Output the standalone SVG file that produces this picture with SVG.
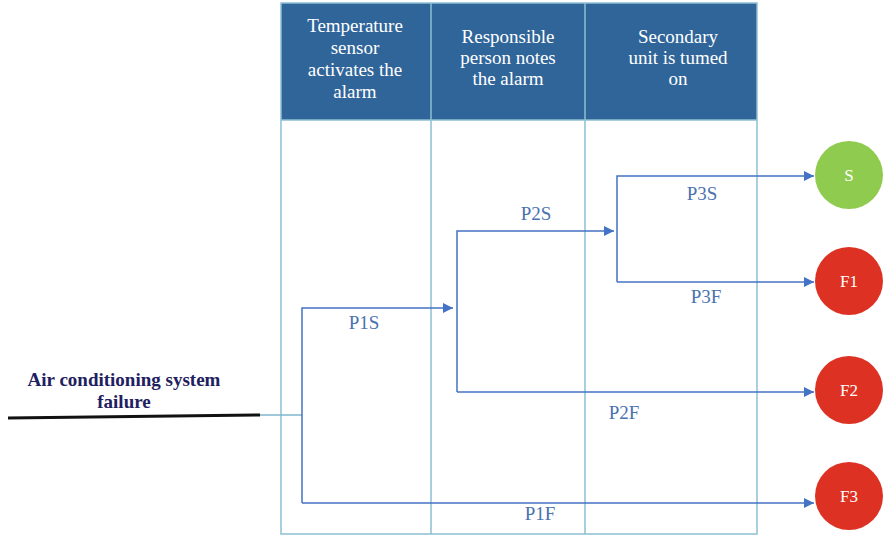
<svg xmlns="http://www.w3.org/2000/svg" width="885" height="536" viewBox="0 0 885 536" font-family="'Liberation Serif', serif">
  <defs>
    <marker id="arrow" viewBox="0 0 10 10" refX="10" refY="5" markerWidth="10" markerHeight="10" markerUnits="userSpaceOnUse" orient="auto">
      <path d="M0,0 L10,5 L0,10 z" fill="#4472C4"/>
    </marker>
    <style>
      .grid { fill: none; stroke: #8DBFD3; stroke-width: 1.5; }
      .hdr { fill: #FFFFFF; font-size: 19px; text-anchor: middle; }
      .flow { fill: none; stroke: #4472C4; stroke-width: 1.5; }
      .tie { fill: none; stroke: #7FB7CB; stroke-width: 1.5; }
      .lbl { fill: #4A72B0; font-size: 19px; text-anchor: middle; }
      .evt { fill: #1E2060; font-size: 19px; font-weight: bold; text-anchor: middle; }
      .state text { fill: #FFFFFF; font-size: 17px; text-anchor: middle; }
      .ok { fill: #8FCB4E; }
      .bad { fill: #DD3223; }
    </style>
  </defs>

  <!-- swimlane table -->
  <g id="table">
    <rect x="281" y="3" width="476" height="117" fill="#30659A"/>
    <rect x="281" y="3" width="476" height="531" class="grid"/>
    <line x1="431" y1="3" x2="431" y2="534" class="grid"/>
    <line x1="585" y1="3" x2="585" y2="534" class="grid"/>
    <line x1="281" y1="120" x2="757" y2="120" class="grid"/>
  </g>

  <g id="lane-sensor">
    <text class="hdr" x="355" y="32">Temperature</text>
    <text class="hdr" x="355" y="54">sensor</text>
    <text class="hdr" x="355" y="76">activates the</text>
    <text class="hdr" x="355" y="98">alarm</text>
  </g>
  <g id="lane-person">
    <text class="hdr" x="508" y="43">Responsible</text>
    <text class="hdr" x="508" y="64">person notes</text>
    <text class="hdr" x="508" y="85">the alarm</text>
  </g>
  <g id="lane-secondary">
    <text class="hdr" x="678" y="43">Secondary</text>
    <text class="hdr" x="678" y="64">unit is tumed</text>
    <text class="hdr" x="678" y="85">on</text>
  </g>

  <!-- initiating event -->
  <g id="event">
    <text class="evt" x="124" y="386">Air conditioning system</text>
    <text class="evt" x="124" y="408">failure</text>
    <path d="M8,418 L260,415" stroke="#111111" stroke-width="3" fill="none"/>
  </g>

  <!-- branches -->
  <g id="connectors">
    <path class="tie" d="M260,415 H302"/>
    <path class="flow" d="M302,503 V308 H453" marker-end="url(#arrow)"/>
    <path class="flow" d="M302,503 H814" marker-end="url(#arrow)"/>
    <path class="flow" d="M457,392 V231 H614" marker-end="url(#arrow)"/>
    <path class="flow" d="M457,392 H814" marker-end="url(#arrow)"/>
    <path class="flow" d="M617,282 V176 H814" marker-end="url(#arrow)"/>
    <path class="flow" d="M617,282 H814" marker-end="url(#arrow)"/>
    <text class="lbl" x="364" y="329">P1S</text>
    <text class="lbl" x="536" y="220">P2S</text>
    <text class="lbl" x="702" y="200">P3S</text>
    <text class="lbl" x="706" y="303">P3F</text>
    <text class="lbl" x="624" y="419">P2F</text>
    <text class="lbl" x="540" y="520">P1F</text>
  </g>

  <!-- outcomes -->
  <g id="S" class="state">
    <circle class="ok" cx="849" cy="175" r="34"/>
    <text x="849" y="181">S</text>
  </g>
  <g id="F1" class="state">
    <circle class="bad" cx="849" cy="281" r="34"/>
    <text x="849" y="287">F1</text>
  </g>
  <g id="F2" class="state">
    <circle class="bad" cx="849" cy="390" r="34"/>
    <text x="849" y="396">F2</text>
  </g>
  <g id="F3" class="state">
    <circle class="bad" cx="849" cy="496" r="34"/>
    <text x="849" y="502">F3</text>
  </g>
</svg>
